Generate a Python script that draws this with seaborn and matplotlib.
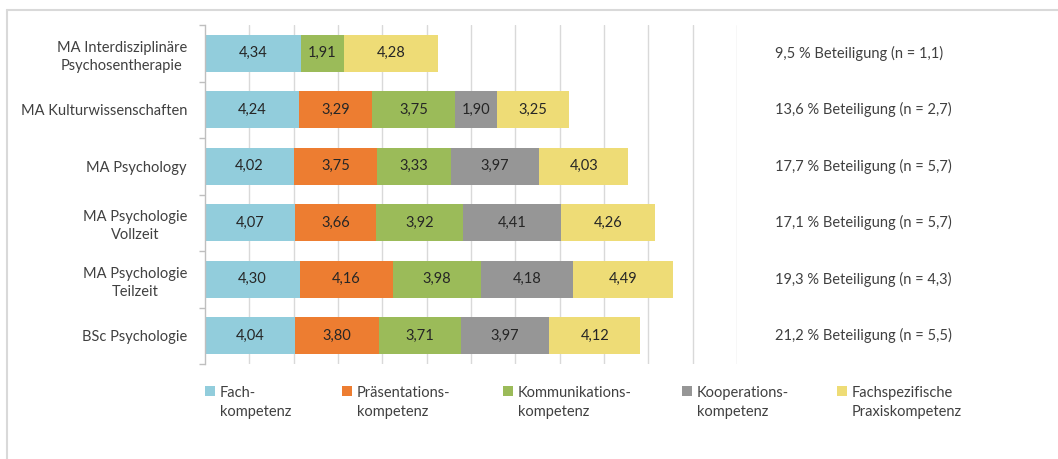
import numpy as np
import pandas as pd
import matplotlib
matplotlib.use("Agg")
import matplotlib.pyplot as plt
from matplotlib.patches import Patch
from matplotlib.lines import Line2D
import seaborn as sns

# Study programmes (top to bottom) and competence areas
programs = [
    "MA Interdisziplinäre\nPsychosentherapie",
    "MA Kulturwissenschaften",
    "MA Psychology",
    "MA Psychologie\nVollzeit",
    "MA Psychologie\nTeilzeit",
    "BSc Psychologie",
]
competences = [
    "Fach-\nkompetenz",
    "Präsentations-\nkompetenz",
    "Kommunikations-\nkompetenz",
    "Kooperations-\nkompetenz",
    "Fachspezifische\nPraxiskompetenz",
]

# Mean ratings per competence area (NaN = not rated)
fach = [4.34, 4.24, 4.02, 4.07, 4.30, 4.04]
praesentation = [np.nan, 3.29, 3.75, 3.66, 4.16, 3.80]
kommunikation = [1.91, 3.75, 3.33, 3.92, 3.98, 3.71]
kooperation = [np.nan, 1.90, 3.97, 4.41, 4.18, 3.97]
praxis = [4.28, 3.25, 4.03, 4.26, 4.49, 4.12]

participation = [
    "9,5 % Beteiligung (n = 1,1)",
    "13,6 % Beteiligung (n = 2,7)",
    "17,7 % Beteiligung (n = 5,7)",
    "17,1 % Beteiligung (n = 5,7)",
    "19,3 % Beteiligung (n = 4,3)",
    "21,2 % Beteiligung (n = 5,5)",
]

colors = ["#92CDDC", "#ED7D31", "#9BBB59", "#969696", "#EEDC76"]

sns.set_theme(style="white")
plt.rcParams["font.family"] = ["Lato", "DejaVu Sans"]

values = pd.DataFrame(
    {c: v for c, v in zip(competences, [fach, praesentation, kommunikation, kooperation, praxis])},
    index=programs,
)
cum = values.fillna(0).cumsum(axis=1)

fig = plt.figure(figsize=(10.58, 4.59), dpi=100)
ax = fig.add_axes([205 / 1058, 1 - 364 / 459, (737 - 205) / 1058, (364 - 25) / 459])

# Stacked bars: draw cumulative totals from the outermost segment inwards
for k in range(len(competences) - 1, -1, -1):
    sns.barplot(
        x=cum.iloc[:, k].values, y=programs, orient="y", color=colors[k],
        saturation=1, width=0.66, ax=ax, linewidth=0,
    )

# Value labels in the middle of each segment, participation notes on the right
prev = cum.shift(1, axis=1).fillna(0)
for i, prog in enumerate(programs):
    for k, comp in enumerate(competences):
        v = values.loc[prog, comp]
        if np.isnan(v):
            continue
        ax.text(prev.loc[prog, comp] + v / 2, i, f"{v:.2f}".replace(".", ","),
                ha="center", va="center", fontsize=10.5, color="#262626")
    ax.text(25.7, i, participation[i], ha="left", va="center", fontsize=10.5,
            color="#404040", clip_on=False)

ax.set_xlim(0, 24)
ax.set_ylim(5.5, -0.5)
ax.set_xticks(np.arange(2, 25, 2))
ax.xaxis.grid(True, color="#D9D9D9", linewidth=1)
ax.set_axisbelow(True)
ax.tick_params(axis="x", length=0, labelbottom=False)
ax.set_xlabel("")
ax.set_ylabel("")
for side in ["top", "right", "bottom"]:
    ax.spines[side].set_visible(False)
ax.spines["left"].set_color("#BFBFBF")
ax.spines["left"].set_linewidth(1)

ax.set_yticks(range(len(programs)))
ax.set_yticklabels(programs, fontsize=10.5, color="#404040")
for lbl in ax.get_yticklabels():
    lbl.set_multialignment("center")
    lbl.set_linespacing(1.35)
ax.tick_params(axis="y", which="major", length=0, pad=13)
ax.set_yticks(np.arange(-0.5, len(programs), 1), minor=True)
ax.tick_params(axis="y", which="minor", length=4, width=1, color="#BFBFBF", left=True)

# Legend entries placed individually along the bottom
legend_x = [205, 342, 503, 682, 837]
for k, comp in enumerate(competences):
    leg = fig.legend(
        handles=[Patch(facecolor=colors[k], edgecolor="none")], labels=[comp],
        loc="upper left", bbox_to_anchor=(legend_x[k] / 1058, 1 - 386 / 459),
        frameon=False, handlelength=0.7, handleheight=0.7, handletextpad=0.3,
        borderpad=0, borderaxespad=0, fontsize=10.5, labelcolor="#404040",
    )
    for t in leg.get_texts():
        t.set_linespacing(1.45)
    for column in leg._legend_handle_box.get_children():
        for entry in column.get_children():
            entry.align = "top"

# Outer chart frame (top and left edges)
fig.add_artist(Line2D([7 / 1058, 7 / 1058], [0, 1 - 10 / 459], color="#D9D9D9", linewidth=1.5))
fig.add_artist(Line2D([7 / 1058, 1], [1 - 10 / 459, 1 - 10 / 459], color="#D9D9D9", linewidth=1.5))

fig.savefig("out.png", dpi=100)
